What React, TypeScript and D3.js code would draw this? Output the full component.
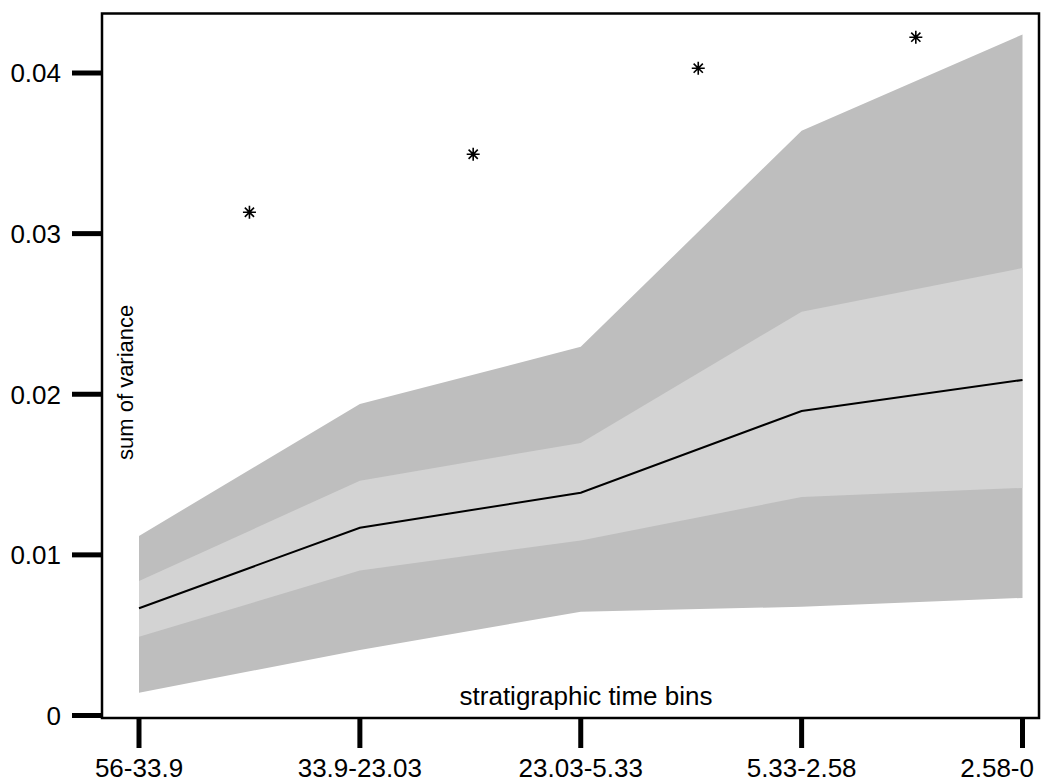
import React from "react";
import * as d3 from "d3";

const categories = ["56-33.9", "33.9-23.03", "23.03-5.33", "5.33-2.58", "2.58-0"];
const median = [0.00668, 0.01169, 0.01387, 0.01896, 0.02089];
const outerUpper = [0.01118, 0.0194, 0.02295, 0.03641, 0.0424];
const outerLower = [0.00142, 0.00408, 0.00646, 0.00677, 0.00732];
const innerUpper = [0.00837, 0.01462, 0.01697, 0.02514, 0.02786];
const innerLower = [0.00491, 0.00902, 0.0109, 0.0136, 0.01417];
const starPos = [0.5, 1.513, 2.532, 3.517];
const starVal = [0.03133, 0.03494, 0.0403, 0.04223];
const yTicks = [0, 0.01, 0.02, 0.03, 0.04];
const yTickLabels = ["0", "0.01", "0.02", "0.03", "0.04"];

const W = 1041;
const H = 783;
const box = { left: 102, top: 13.5, right: 1039, bottom: 718 };
const FONT = "'Liberation Sans', Arial, Helvetica, sans-serif";

export default function App() {
  const x = d3.scaleLinear().domain([0, 4]).range([139, 1022.5]);
  const y = d3.scaleLinear().domain([0, 0.04]).range([715.5, 73]);
  const idx = d3.range(categories.length);

  const area = (lo: number[], hi: number[]) =>
    d3
      .area<number>()
      .x((i) => x(i))
      .y0((i) => y(lo[i]))
      .y1((i) => y(hi[i]))(idx) || "";

  const line =
    d3
      .line<number>()
      .x((i) => x(i))
      .y((i) => y(median[i]))(idx) || "";

  const star = (cx: number, cy: number) => {
    const r = 6.5;
    const d = 4.6;
    return `M${cx - r},${cy}L${cx + r},${cy}M${cx},${cy - r}L${cx},${cy + r}` +
      `M${cx - d},${cy - d}L${cx + d},${cy + d}M${cx - d},${cy + d}L${cx + d},${cy - d}`;
  };

  return (
    <svg
      width={W}
      height={H}
      style={{ position: "absolute", left: 0, top: 0, background: "#fff" }}
      fontFamily={FONT}
    >
      <path d={area(outerLower, outerUpper)} fill="#bebebe" />
      <path d={area(innerLower, innerUpper)} fill="#d3d3d3" />
      <path d={line} fill="none" stroke="#000" strokeWidth={2} />
      {starPos.map((p, i) => (
        <path key={i} d={star(x(p), y(starVal[i]))} stroke="#000" strokeWidth={1.6} fill="none" />
      ))}
      <rect
        x={box.left}
        y={box.top}
        width={box.right - box.left}
        height={box.bottom - box.top}
        fill="none"
        stroke="#000"
        strokeWidth={2.5}
      />
      {yTicks.map((t, i) => (
        <g key={i}>
          <line x1={72} x2={box.left} y1={y(t)} y2={y(t)} stroke="#000" strokeWidth={5} />
          <text x={61} y={y(t)} dy="0.36em" textAnchor="end" fontSize={26}>
            {yTickLabels[i]}
          </text>
        </g>
      ))}
      {categories.map((c, i) => {
        const last = i === categories.length - 1;
        return (
          <g key={c}>
            <line x1={x(i)} x2={x(i)} y1={box.bottom} y2={748} stroke="#000" strokeWidth={5} />
            <text
              x={last ? W - 7 : x(i)}
              y={777}
              textAnchor={last ? "end" : "middle"}
              fontSize={26}
            >
              {c}
            </text>
          </g>
        );
      })}
      <text x={586} y={705} textAnchor="middle" fontSize={26}>
        stratigraphic time bins
      </text>
      <text
        transform={`translate(133,460) rotate(-90)`}
        textAnchor="start"
        fontSize={22}
      >
        sum of variance
      </text>
    </svg>
  );
}
